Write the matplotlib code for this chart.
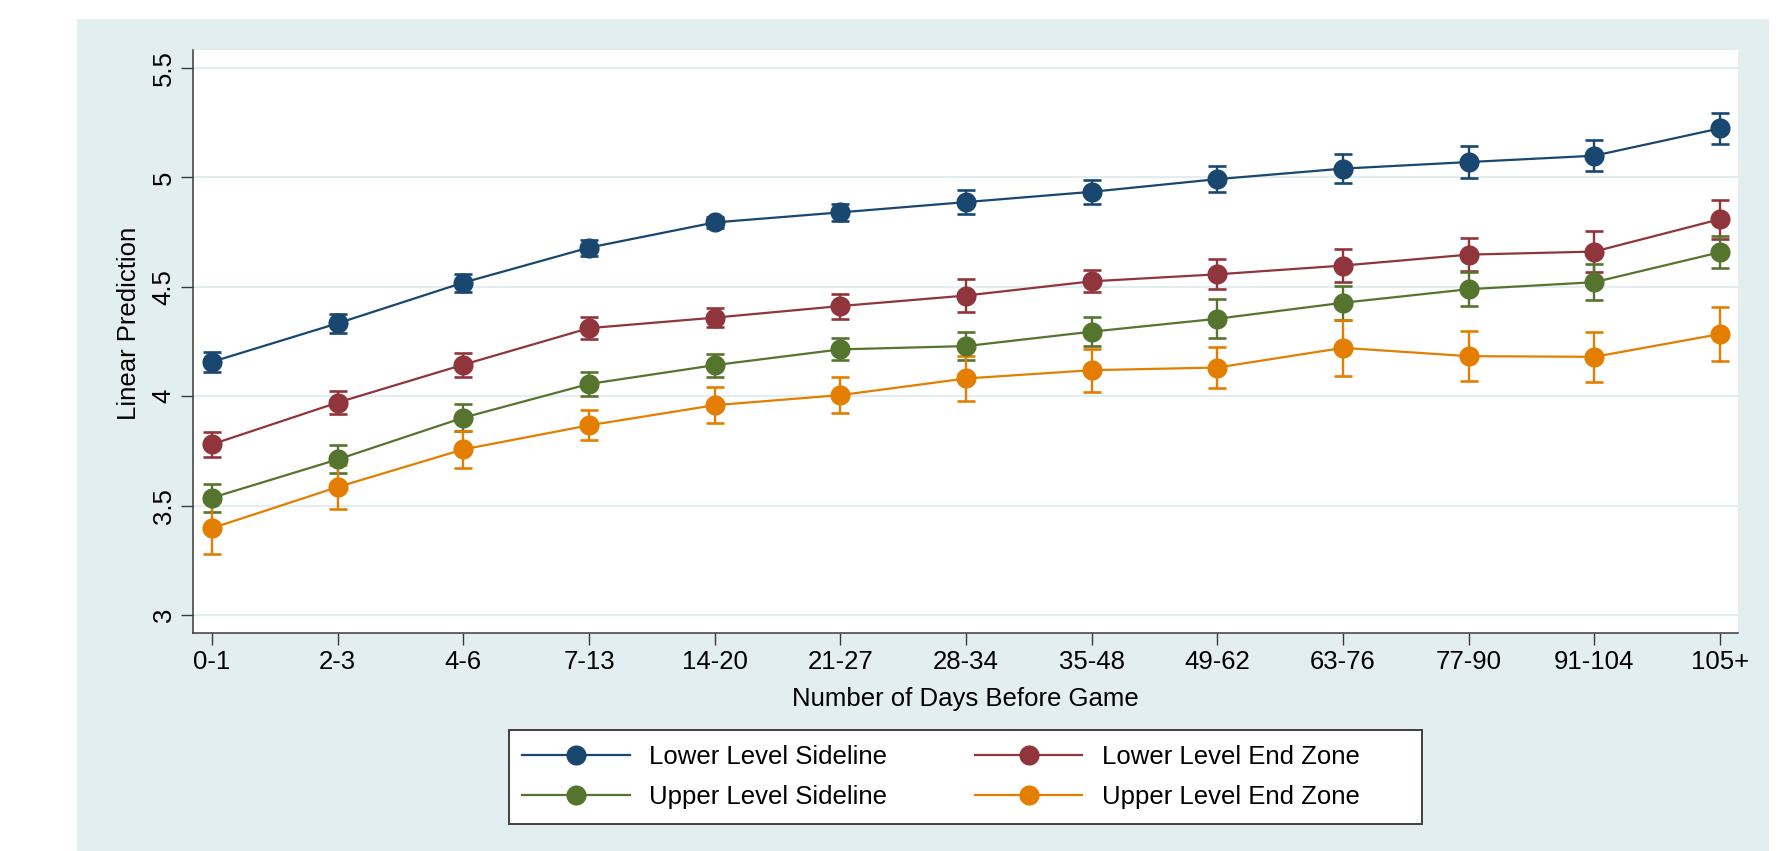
import matplotlib
matplotlib.use('Agg')
import matplotlib.pyplot as plt
from matplotlib.patches import Rectangle

# ---------------- data ----------------
categories = ['0-1', '2-3', '4-6', '7-13', '14-20', '21-27', '28-34',
              '35-48', '49-62', '63-76', '77-90', '91-104', '105+']

lower_sideline = [4.157, 4.333, 4.519, 4.679, 4.794, 4.840, 4.887,
                  4.934, 4.992, 5.040, 5.070, 5.099, 5.224]
lower_sideline_err = [0.047, 0.044, 0.041, 0.037, 0.027, 0.040, 0.053,
                      0.055, 0.059, 0.067, 0.073, 0.072, 0.072]

lower_endzone = [3.780, 3.971, 4.144, 4.311, 4.359, 4.412, 4.460,
                 4.525, 4.557, 4.597, 4.647, 4.661, 4.809]
lower_endzone_err = [0.057, 0.051, 0.054, 0.049, 0.044, 0.057, 0.074,
                     0.050, 0.069, 0.076, 0.077, 0.095, 0.089]

upper_sideline = [3.536, 3.711, 3.902, 4.056, 4.142, 4.214, 4.229,
                  4.295, 4.354, 4.427, 4.489, 4.521, 4.658]
upper_sideline_err = [0.063, 0.064, 0.061, 0.055, 0.052, 0.050, 0.063,
                      0.067, 0.088, 0.078, 0.079, 0.082, 0.073]

upper_endzone = [3.397, 3.585, 3.757, 3.867, 3.959, 4.005, 4.081,
                 4.119, 4.131, 4.221, 4.183, 4.180, 4.284]
upper_endzone_err = [0.118, 0.102, 0.085, 0.068, 0.082, 0.083, 0.105,
                     0.098, 0.093, 0.127, 0.115, 0.114, 0.123]

series_labels = ['Lower Level Sideline', 'Lower Level End Zone',
                 'Upper Level Sideline', 'Upper Level End Zone']
y_ticks = [3, 3.5, 4, 4.5, 5, 5.5]
y_tick_labels = ['3', '3.5', '4', '4.5', '5', '5.5']

# ---------------- style ----------------
plt.rcParams['font.family'] = ['Liberation Sans', 'DejaVu Sans']
colors = ['#1a476f', '#90353b', '#55752f', '#e37e00']
panel_color = '#e2eeef'
grid_color = '#e4eef1'
axis_color = '#3a3a3a'
FS = 18.5

W, H = 1787, 851
fig = plt.figure(figsize=(W / 100, H / 100), dpi=100)
fig.patch.set_facecolor('white')
fig.patches.append(Rectangle((77 / W, 0), (1769 - 77) / W, (851 - 19) / H,
                             transform=fig.transFigure, facecolor=panel_color,
                             edgecolor='none', zorder=-10))

ax_l, ax_r, ax_t, ax_b = 193, 1738, 50, 633
ax = fig.add_axes([ax_l / W, 1 - ax_b / H, (ax_r - ax_l) / W, (ax_b - ax_t) / H])
ax.set_facecolor('white')

x = list(range(len(categories)))
all_series = [(lower_sideline, lower_sideline_err),
              (lower_endzone, lower_endzone_err),
              (upper_sideline, upper_sideline_err),
              (upper_endzone, upper_endzone_err)]

handles = []
for (vals, errs), col, lab in zip(all_series, colors, series_labels):
    ax.errorbar(x, vals, yerr=errs, fmt='none', ecolor=col, elinewidth=1.7,
                capsize=6.3, capthick=1.9, zorder=3)
    h, = ax.plot(x, vals, color=col, lw=1.6, marker='o', markersize=14.5,
                 markeredgewidth=0, label=lab, zorder=4)
    handles.append(h)

ax.set_xlim(-0.151, 12.143)
ax.set_ylim(2.918, 5.582)
ax.set_xticks(x)
ax.set_xticklabels(categories)
ax.set_yticks(y_ticks)
ax.set_yticklabels(y_tick_labels)

for v in y_ticks:
    ax.axhline(v, color=grid_color, lw=1.6, zorder=1)

for side in ['top', 'right']:
    ax.spines[side].set_visible(False)
for side in ['left', 'bottom']:
    ax.spines[side].set_color(axis_color)
    ax.spines[side].set_linewidth(1.1)

ax.tick_params(axis='both', direction='out', length=8.6, width=1.0,
               color=axis_color, labelsize=FS, labelcolor='black')
ax.tick_params(axis='x', pad=3.5)
ax.tick_params(axis='y', pad=4, labelrotation=90)
for lbl in ax.get_yticklabels():
    lbl.set_va('center')

ax.set_xlabel('Number of Days Before Game', fontsize=FS)
ax.set_ylabel('Linear Prediction', fontsize=FS)
ax.xaxis.set_label_coords(0.5, -(699 - ax_b) / (ax_b - ax_t))
ax.xaxis.label.set_va('center')
ax.yaxis.set_label_coords((129 - ax_l) / (ax_r - ax_l), (ax_b - 323) / (ax_b - ax_t))
ax.yaxis.label.set_va('center')

# legend frame (Stata-style equal-width columns)
lg_l, lg_r, lg_t, lg_b = 509, 1422, 730, 824
fig.patches.append(Rectangle((lg_l / W, 1 - lg_b / H), (lg_r - lg_l) / W,
                             (lg_b - lg_t) / H, transform=fig.transFigure,
                             facecolor='white', edgecolor='#404040',
                             linewidth=1.4, zorder=1))
# row-wise order: matplotlib fills columns first
order = [0, 2, 1, 3]
leg = fig.legend(handles=[handles[i] for i in order],
                 labels=[series_labels[i] for i in order], ncol=2,
                 loc='center left', bbox_to_anchor=(522 / W, 1 - 777 / H),
                 fontsize=FS, frameon=False, borderpad=0, borderaxespad=0,
                 handlelength=4.2, handletextpad=0.75, columnspacing=3.4,
                 labelspacing=0.62)
leg.set_zorder(5)

fig.savefig('out.png', dpi=100, facecolor=fig.get_facecolor())
